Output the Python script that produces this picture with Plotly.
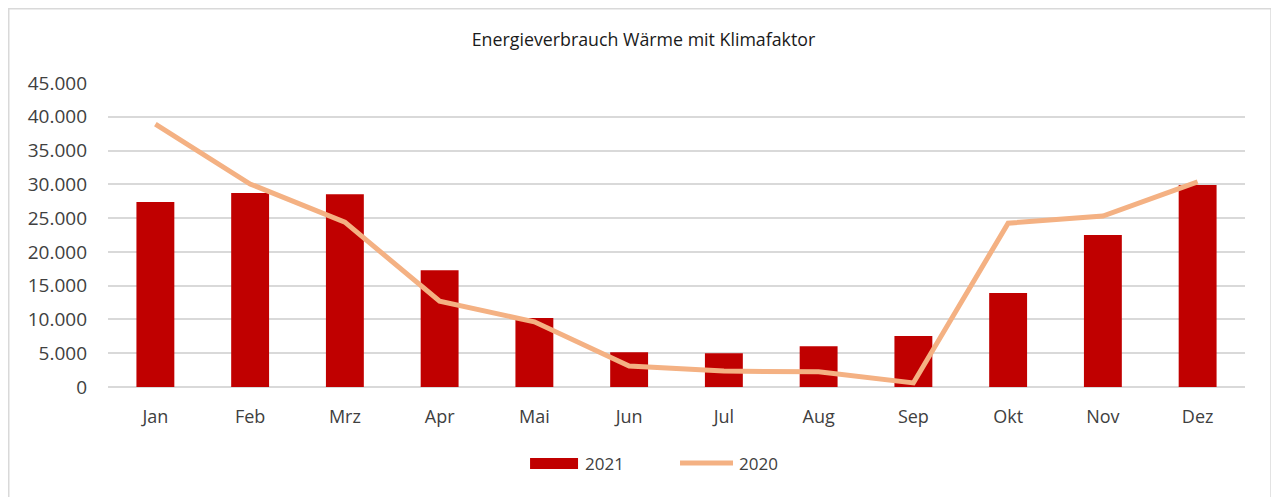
import plotly.graph_objects as go

months = ["Jan", "Feb", "Mrz", "Apr", "Mai", "Jun", "Jul", "Aug", "Sep", "Okt", "Nov", "Dez"]
values_2021 = [27400, 28700, 28550, 17300, 10200, 5150, 5000, 6050, 7550, 13900, 22500, 29900]
values_2020 = [38900, 30050, 24400, 12700, 9650, 3100, 2350, 2250, 600, 24250, 25300, 30350]
y_ticks = [0, 5000, 10000, 15000, 20000, 25000, 30000, 35000, 40000, 45000]
series_names = ["2021", "2020"]
bar_color = "#C00000"
line_color = "#F4B183"

font_family = "Open Sans, Liberation Sans, sans-serif"
text_color = "#404040"

fig = go.Figure()
fig.add_trace(go.Bar(
    x=months, y=values_2021, name=series_names[0],
    marker=dict(color=bar_color, line=dict(width=0)),
))
fig.add_trace(go.Scatter(
    x=months, y=values_2020, name=series_names[1], mode="lines",
    line=dict(color=line_color, width=5),
))

# manual legend (wide Excel-style keys)
legend_shapes = [
    dict(type="rect", xref="paper", yref="paper", x0=0.3712, x1=0.4134, y0=-0.2697, y1=-0.2336,
         fillcolor=bar_color, line=dict(width=0)),
    dict(type="line", xref="paper", yref="paper", x0=0.5031, x1=0.5497, y0=-0.25, y1=-0.25,
         line=dict(color=line_color, width=5)),
]
legend_annotations = [
    dict(text=series_names[0], xref="paper", yref="paper", x=0.4178, y=-0.25, xanchor="left",
         yanchor="middle", showarrow=False, font=dict(size=17, color=text_color, family=font_family)),
    dict(text=series_names[1], xref="paper", yref="paper", x=0.5532, y=-0.25, xanchor="left",
         yanchor="middle", showarrow=False, font=dict(size=17, color=text_color, family=font_family)),
]

fig.update_layout(
    width=1271, height=489,
    margin=dict(l=100, r=34, t=75, b=110),
    paper_bgcolor="white", plot_bgcolor="white",
    separators=",.",
    bargap=0.6,
    title=dict(text="Energieverbrauch Wärme mit Klimafaktor", x=0.5, xanchor="center",
               y=1 - 32 / 489, yanchor="middle",
               font=dict(family=font_family, size=17.8, color="#1a1a1a")),
    font=dict(family=font_family, color=text_color),
    showlegend=False,
    xaxis=dict(showgrid=False, showline=False, ticks="", tickfont=dict(size=18, color=text_color),
               ticklabelstandoff=17),
    yaxis=dict(range=[0, 45000], tickvals=y_ticks, tickformat=",d", showgrid=True,
               gridcolor="#D9D9D9", gridwidth=1.5, zeroline=True, zerolinecolor="#D9D9D9",
               zerolinewidth=1.5, ticks="", tickfont=dict(size=19, color=text_color),
               ticklabelstandoff=20, showline=False),
    shapes=[dict(type="rect", xref="paper", yref="paper", x0=-0.0873, x1=1.0229,
                 y0=-0.4, y1=1.2442, line=dict(color="#D9D9D9", width=1.5),
                 fillcolor="rgba(0,0,0,0)", layer="below")] + legend_shapes,
    annotations=legend_annotations,
)

fig.write_html("out.html")
